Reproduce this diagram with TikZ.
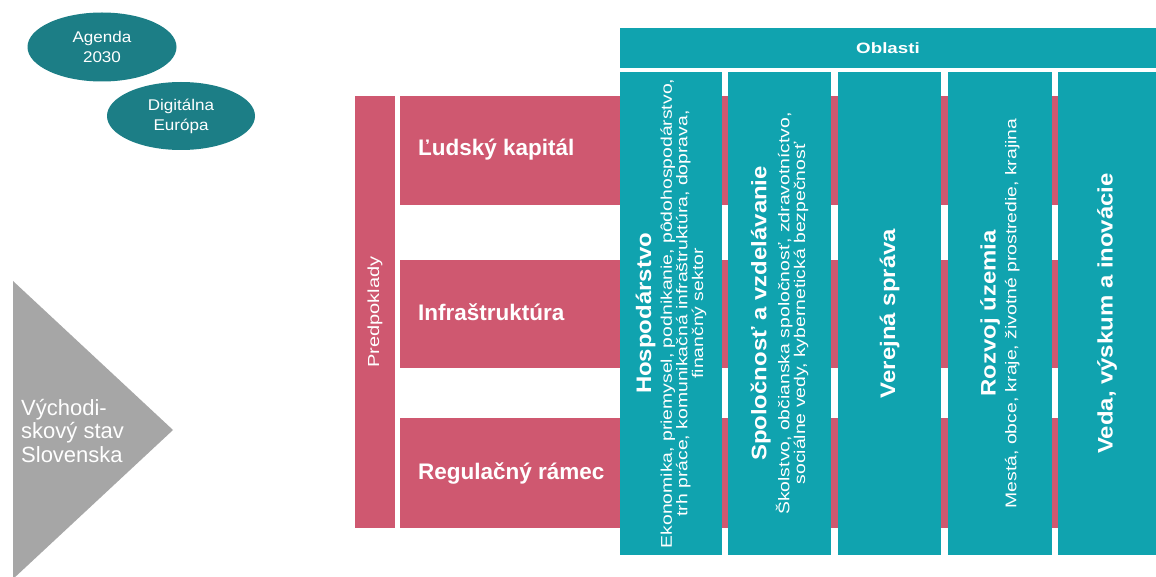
\documentclass[tikz,border=0pt]{standalone}
\usepackage{fontspec}
\setmainfont{Liberation Sans}
\newfontfamily\vsmallfont[FakeStretch=1.25]{Liberation Sans}
\newfontfamily\vtitlefont[FakeStretch=1.14]{Liberation Sans}
\newfontfamily\oblfont[FakeStretch=1.25]{Liberation Sans}
\newfontfamily\ellfont[FakeStretch=1.1]{Liberation Sans}
\usetikzlibrary{shapes.geometric}
\definecolor{tealc}{RGB}{16,163,175}
\definecolor{darkteal}{RGB}{28,126,134}
\definecolor{pinkc}{RGB}{207,88,112}
\definecolor{grayc}{RGB}{166,166,166}
\tikzset{
  box/.style={rectangle, inner sep=0pt, outer sep=0pt, draw=none},
  pinkbox/.style={box, fill=pinkc},
  tealbox/.style={box, fill=tealc},
  ell/.style={ellipse, fill=darkteal, inner sep=0pt, outer sep=0pt, text=white, align=center,
    minimum width=149pt, minimum height=69pt, font=\ellfont\fontsize{15.5}{20}\selectfont},
  rowtext/.style={anchor=west, text=white, inner sep=0pt, font=\bfseries\fontsize{22.5}{26}\selectfont},
  coltext/.style={rotate=90, text=white, align=center, inner sep=0pt},
}
\newcommand{\ctitle}{\vtitlefont\bfseries\fontsize{21}{25}\selectfont}
\newcommand{\csmall}{\vsmallfont\mdseries\fontsize{15.5}{20}\selectfont}
\begin{document}
\begin{tikzpicture}[x=1pt,y=-1pt]
\useasboundingbox (0,0) rectangle (1156,577);
\fill[white] (0,0) rectangle (1156,577);

% ellipses
\node[ell] (agenda) at (102,47) {Agenda\\2030};
\node[ell, minimum width=148pt, minimum height=68pt] (digi) at (181,116) {Digitálna\\Európa};

% triangle
\fill[grayc] (13,281) -- (173,430) -- (13,579) -- cycle;
\node[anchor=west, align=left, text=white, inner sep=0pt,
      font=\fontsize{22}{23.5}\selectfont] (vych) at (21,431) {Východi-\\skový stav\\Slovenska};

% predpoklady
\node[pinkbox, minimum width=40pt, minimum height=432pt] (pred) at (375,312) {};
\node[rotate=90, text=white, inner sep=0pt, font=\vsmallfont\fontsize{16}{19}\selectfont] (predt) at (pred.center) {Predpoklady};

% rows (extend behind columns)
\node[pinkbox, minimum width=756pt, minimum height=109pt] (r1) at (778,150.5) {};
\node[pinkbox, minimum width=756pt, minimum height=108pt] (r2) at (778,314) {};
\node[pinkbox, minimum width=756pt, minimum height=110pt] (r3) at (778,473) {};
\node[rowtext] (r1t) at (418,150) {Ľudský kapitál};
\node[rowtext] (r2t) at (418,312) {Infraštruktúra};
\node[rowtext] (r3t) at (418,473) {Regulačný rámec};

% header
\node[tealbox, minimum width=536pt, minimum height=40pt] (hdr) at (888,48) {};
\node[text=white, inner sep=0pt, font=\oblfont\bfseries\fontsize{15}{18}\selectfont] (hdrt) at (hdr.center) {Oblasti};

% columns
\node[tealbox, minimum width=102pt, minimum height=483pt] (c1) at (671,313.5) {};
\node[tealbox, minimum width=103pt, minimum height=483pt] (c2) at (779.5,313.5) {};
\node[tealbox, minimum width=103pt, minimum height=483pt] (c3) at (889.5,313.5) {};
\node[tealbox, minimum width=104pt, minimum height=483pt] (c4) at (1000,313.5) {};
\node[tealbox, minimum width=98pt, minimum height=483pt] (c5) at (1107,313.5) {};

\node[coltext] (c1t) at (c1.center) {\ctitle Hospodárstvo\\[4pt]
  \csmall Ekonomika, priemysel, podnikanie, pôdohospodárstvo,\\
  \csmall trh práce, komunikačná infraštruktúra, doprava,\\
  \csmall finančný sektor};
\node[coltext] (c2t) at (c2.center) {\ctitle Spoločnosť a vzdelávanie\\[4pt]
  \csmall Školstvo, občianska spoločnosť, zdravotníctvo,\\
  \csmall sociálne vedy, kybernetická bezpečnosť};
\node[coltext] (c3t) at (c3.center) {\ctitle Verejná správa};
\node[coltext] (c4t) at (c4.center) {\ctitle Rozvoj územia\\[4pt]
  \csmall Mestá, obce, kraje, životné prostredie, krajina};
\node[coltext] (c5t) at (c5.center) {\ctitle Veda, výskum a inovácie};
\end{tikzpicture}
\end{document}
